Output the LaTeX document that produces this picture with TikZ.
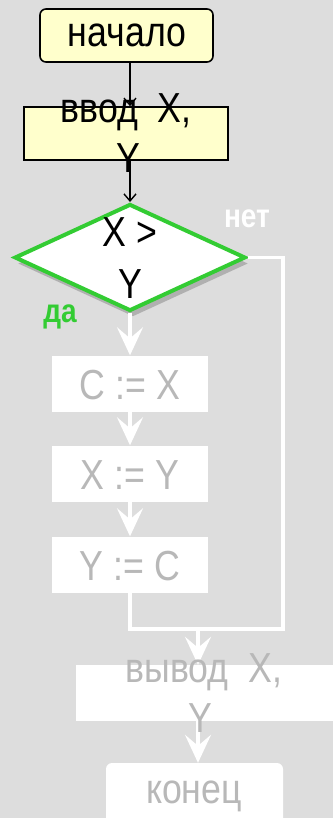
\documentclass[tikz,border=0pt]{standalone}
\usepackage{fontspec}
\setmainfont{Liberation Sans}[FakeStretch=0.85]
\usetikzlibrary{shapes.geometric,arrows.meta,shadows}
\definecolor{bg}{HTML}{DDDDDD}
\definecolor{pale}{HTML}{FFFFCC}
\definecolor{grn}{HTML}{33CC33}
\definecolor{gtxt}{HTML}{B8B8B8}
\begin{document}
\begin{tikzpicture}[x=1pt,y=-1pt,
  big/.style={font=\fontsize{42}{50}\selectfont, inner sep=0pt, anchor=base},
  gbig/.style={big, text=gtxt},
  yelbox/.style={draw=black, fill=pale, line width=1.6pt, inner sep=0pt},
  whbox/.style={draw=none, fill=white, inner sep=0pt},
  blk/.style={draw=black, line width=1.4pt, -{Straight Barb[length=7pt,width=12pt]}},
  wl/.style={draw=white, line width=3.2pt},
  wa/.style={wl, -{Stealth[length=28pt 0 0,width=26pt 0 0,inset=11pt 0]}},
  lbl/.style={font=\fontsize{33}{38}\selectfont\bfseries, inner sep=0pt, anchor=base}]
\clip (0,0) rectangle (333,818);
\fill[bg] (0,0) rectangle (333,818);
% shapes
\node[yelbox, rounded corners=6pt, minimum width=173pt, minimum height=53pt] (start) at (126.5,35.5) {};
\node[yelbox, minimum width=204pt, minimum height=53pt] (in) at (126,133.5) {};
\node[diamond, draw=grn, fill=white, line width=4pt, inner sep=0pt, aspect=2.16,
      minimum width=231pt, minimum height=107pt,
      drop shadow={shadow xshift=3pt, shadow yshift=-6pt, opacity=0.2, fill=black}] (dec) at (130,257.5) {};
\node[whbox, minimum width=156pt, minimum height=56pt] (c1) at (130,383.5) {};
\node[whbox, minimum width=156pt, minimum height=56pt] (c2) at (130,473.5) {};
\node[whbox, minimum width=156pt, minimum height=56pt] (c3) at (130,564.5) {};
\node[whbox, minimum width=264pt, minimum height=56pt] (out) at (208,693) {};
\node[whbox, rounded corners=6pt, minimum width=177pt, minimum height=67pt] (end) at (194.5,796.5) {};
\coordinate (r) at (283,629);
\coordinate (m) at (198,629);
% connectors
\draw[blk] (dec.north |- start.south) -- (dec.north |- in.north);
\draw[blk] (dec.north |- in.south) -- (dec.north);
\draw[wa] (dec.south) -- (c1.north);
\draw[wa] (c1.south) -- (c2.north);
\draw[wa] (c2.south) -- (c3.north);
\draw[wl] (dec.east) -| (r) -- (c3.south |- r) -- (c3.south);
\draw[wa] (m) -- (m |- out.north);
\draw[wa] (m |- out.south) -- (m |- end.north);
% texts
\node[big] (tstart) at (127,47) {начало};
\node[big] (tin1) at (126,123) {ввод\ \ X,};
\node[big] (tin2) at (128,173) {Y};
\node[big] (td1) at (130,247) {X >};
\node[big] (td2) at (130,298) {Y};
\node[gbig] (tc1) at (130,399) {C := X};
\node[gbig] (tc2) at (130,489) {X := Y};
\node[gbig] (tc3) at (130,580) {Y := C};
\node[gbig] (tout1) at (204,682) {вывод\ \ X,};
\node[gbig] (tout2) at (200,732) {Y};
\node[gbig] (tend) at (194,803) {конец};
\node[lbl, text=white] (no) at (247,227) {нет};
\node[lbl, text=grn] (yes) at (60,322) {да};
\end{tikzpicture}
\end{document}
